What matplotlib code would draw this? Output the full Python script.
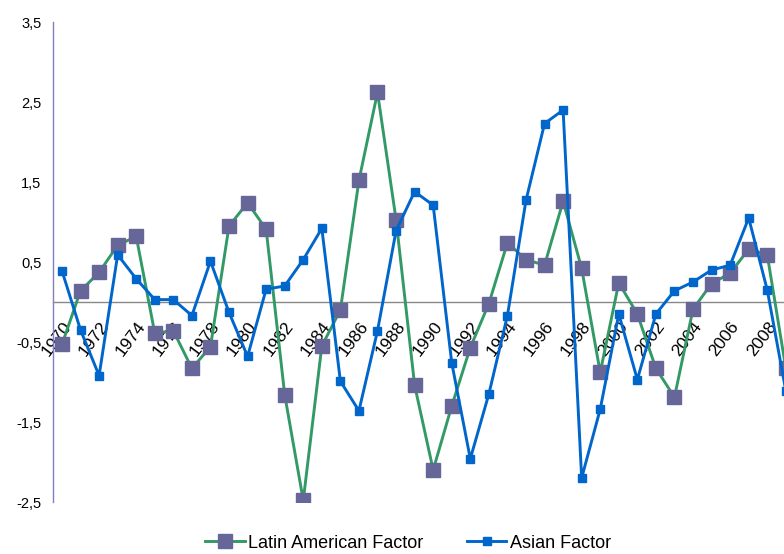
import matplotlib
matplotlib.use("Agg")
import matplotlib.pyplot as plt

plt.rcParams['font.family'] = ['Liberation Sans', 'DejaVu Sans']

years = list(range(1970, 2010))

latin_factor = [-0.53, 0.14, 0.37, 0.71, 0.82, -0.39, -0.36, -0.83, -0.56, 0.95,
                1.24, 0.91, -1.16, -2.48, -0.55, -0.10, 1.52, 2.62, 1.03, -1.04,
                -2.10, -1.30, -0.57, -0.02, 0.74, 0.53, 0.46, 1.26, 0.42, -0.88,
                0.24, -0.15, -0.83, -1.19, -0.09, 0.23, 0.36, 0.66, 0.59, -0.83]

asian_factor = [0.39, -0.35, -0.92, 0.59, 0.29, 0.03, 0.03, -0.17, 0.51, -0.13,
                -0.68, 0.16, 0.20, 0.53, 0.92, -0.99, -1.36, -0.36, 0.89, 1.38,
                1.21, -0.76, -1.96, -1.15, -0.17, 1.27, 2.23, 2.40, -2.20, -1.34,
                -0.15, -0.97, -0.15, 0.14, 0.25, 0.40, 0.46, 1.05, 0.15, -1.11]

y_ticks = [-2.5, -1.5, -0.5, 0.5, 1.5, 2.5, 3.5]
x_ticks = list(range(1970, 2010, 2))

fig = plt.figure(figsize=(7.84, 5.54), dpi=100)
# plot area runs a bit past the right edge of the picture, like the original
ax = fig.add_axes([52.7 / 784, 52 / 554, 742.4 / 784, 480 / 554])

ax.plot(years, latin_factor, color='#339966', lw=2.1, marker='s', ms=9.5,
        mfc='#666699', mec='#666699', label='Latin American Factor', zorder=3)
ax.plot(years, asian_factor, color='#0066CC', lw=2.1, marker='s', ms=5.2,
        mfc='#0066CC', mec='#0066CC', label='Asian Factor', zorder=4)

ax.set_xlim(1969.5, 2009.5)
ax.set_ylim(-2.5, 3.5)

ax.spines['top'].set_visible(False)
ax.spines['right'].set_visible(False)
ax.spines['bottom'].set_position(('data', 0))
ax.spines['bottom'].set_color('#888888')
ax.spines['bottom'].set_linewidth(1.0)
ax.spines['left'].set_color('#8080C0')
ax.spines['left'].set_linewidth(1.0)

ax.set_yticks(y_ticks)
ax.set_yticklabels([f"{v:.1f}".replace('.', ',') for v in y_ticks], fontsize=10.5)
ax.tick_params(axis='y', length=0, pad=8)

ax.set_xticks(x_ticks)
ax.set_xticklabels([str(y) for y in x_ticks], fontsize=12.5)
ax.tick_params(axis='x', length=0, pad=12)
for lbl in ax.get_xticklabels():
    lbl.set_rotation(53)
    lbl.set_rotation_mode('anchor')
    lbl.set_ha('right')
    lbl.set_va('top')

fig.legend(loc='center', bbox_to_anchor=(408 / 784, 11 / 554), ncol=2,
           frameon=False, fontsize=13, handlelength=2.2, handletextpad=0.2,
           columnspacing=2.4)

fig.savefig('out.png', dpi=100)
